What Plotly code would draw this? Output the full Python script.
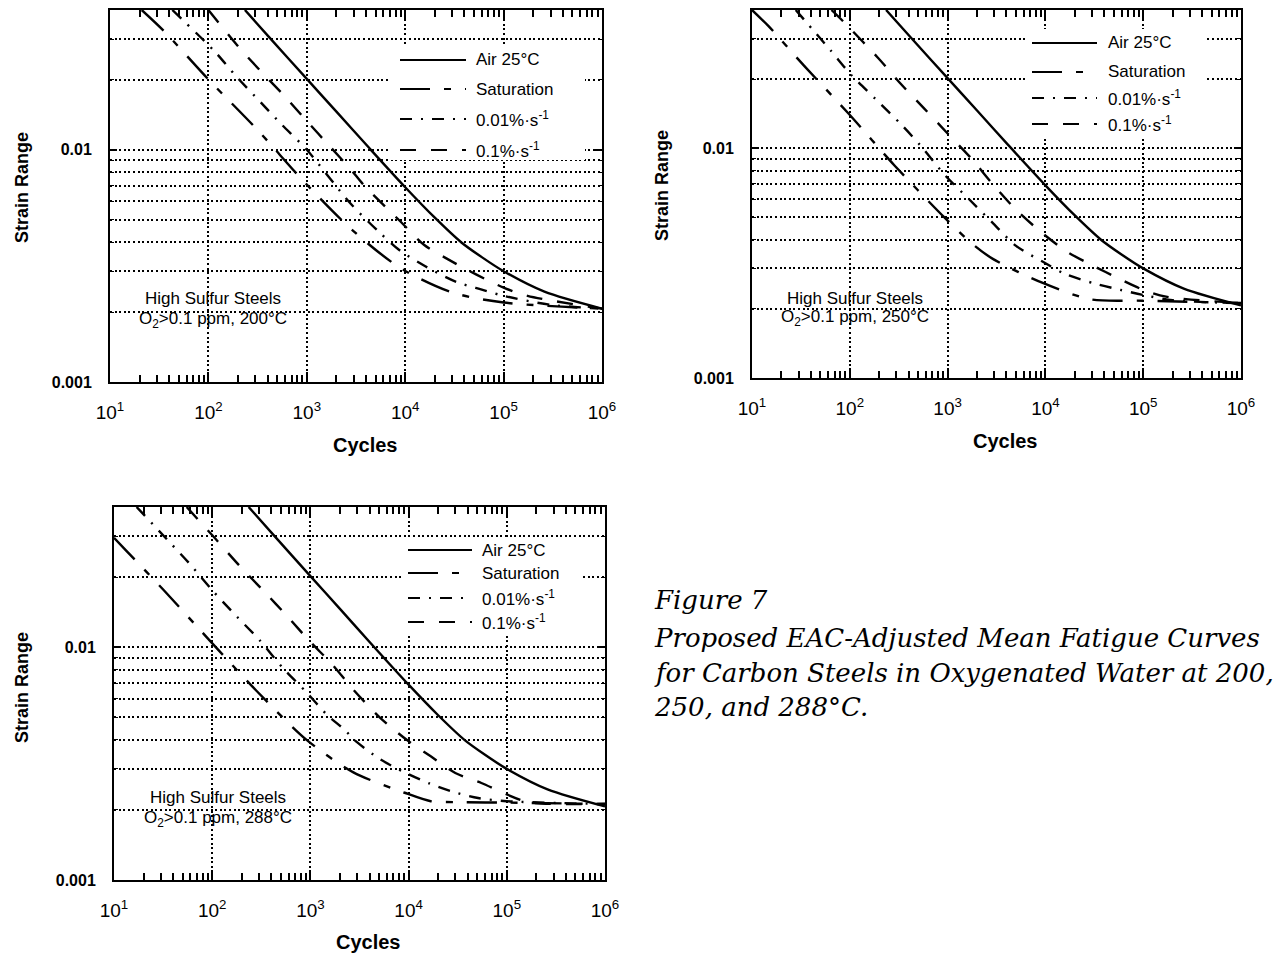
import plotly.graph_objects as go
import math

W, H = 1282, 954

# ---------------- data ----------------
# Air 25 C mean curve (same in all three panels)
air_n = [235, 416, 1000, 2000, 4200, 10000, 20000, 37000, 60000, 100000, 260000, 1000000]
air_e = [0.0400, 0.0305, 0.0202, 0.0146, 0.0103, 0.0069, 0.0051, 0.0040, 0.00345, 0.0030, 0.00245, 0.00207]

# 200 C
sat200_n = [21, 35, 100, 320, 935, 2920, 8900, 30000, 100000, 1000000]
sat200_e = [0.0400, 0.0326, 0.0201, 0.0121, 0.0073, 0.0045, 0.0031, 0.00243, 0.00220, 0.00207]
r001_200_n = [43, 115, 190, 340, 550, 1000, 2750, 5500, 8700, 16000, 33000, 60000, 100000, 300000, 1000000]
r001_200_e = [0.0400, 0.0266, 0.0208, 0.0160, 0.0129, 0.0100, 0.0059, 0.0044, 0.0037, 0.00315, 0.0027, 0.0025, 0.00235, 0.00215, 0.00207]
r01_200_n = [100, 196, 344, 590, 1000, 1730, 2820, 3740, 9000, 15500, 30000, 53000, 100000, 175000, 1000000]
r01_200_e = [0.0400, 0.0282, 0.0217, 0.0171, 0.0133, 0.0103, 0.0082, 0.0071, 0.0049, 0.0039, 0.0033, 0.0029, 0.00255, 0.00235, 0.00207]

# 250 C
sat250_n = [10, 14.6, 20, 34, 98, 288, 927, 1710, 2900, 9260, 29000, 100000, 1000000]
sat250_e = [0.0400, 0.0342, 0.0295, 0.0229, 0.0141, 0.0084, 0.0050, 0.0039, 0.0033, 0.0026, 0.0022, 0.00217, 0.00212]
r001_250_n = [28, 63.5, 104, 183, 335, 526, 948, 1660, 2940, 5010, 9620, 15800, 31600, 58400, 100000, 200000, 1000000]
r001_250_e = [0.0400, 0.0267, 0.0208, 0.0164, 0.0127, 0.0103, 0.0076, 0.0060, 0.0047, 0.00376, 0.00319, 0.00284, 0.00258, 0.00242, 0.00230, 0.00218, 0.00212]
r01_250_n = [65, 86, 197, 335, 568, 1000, 1760, 2880, 5010, 9260, 17100, 30400, 56200, 100000, 171000, 1000000]
r01_250_e = [0.0400, 0.0356, 0.0246, 0.0190, 0.0150, 0.0116, 0.0090, 0.0070, 0.0054, 0.00428, 0.00352, 0.00309, 0.00271, 0.00242, 0.00226, 0.00212]

# 288 C
sat288_n = [10, 13.3, 32, 94, 282, 914, 2740, 9120, 16800, 30000, 100000, 1000000]
sat288_e = [0.0295, 0.0260, 0.0176, 0.0107, 0.0065, 0.0040, 0.0029, 0.00237, 0.00218, 0.00216, 0.00215, 0.00212]
r001_288_n = [17, 35, 59, 102, 179, 305, 517, 912, 1490, 2260, 2790, 5140, 9120, 16200, 27700, 51000, 100000, 1000000]
r001_288_e = [0.0400, 0.0289, 0.0228, 0.0174, 0.0135, 0.0107, 0.0082, 0.0064, 0.0051, 0.0044, 0.0040, 0.0033, 0.0029, 0.0026, 0.0024, 0.00225, 0.00218, 0.00212]
r01_288_n = [55, 108, 193, 336, 579, 984, 1670, 2800, 5140, 9480, 16800, 29900, 55100, 100000, 166000, 1000000]
r01_288_e = [0.0400, 0.0292, 0.0222, 0.0174, 0.0136, 0.0106, 0.00843, 0.0065, 0.00497, 0.00401, 0.0034, 0.00288, 0.00261, 0.00233, 0.00216, 0.00212]

series_names = ["Air 25°C", "Saturation", "0.01%·s<sup>-1</sup>", "0.1%·s<sup>-1</sup>"]
panel_temps = ["200", "250", "288"]

x_tick_vals = [10, 100, 1000, 10000, 100000, 1000000]
x_tick_text = ["10<sup>1</sup>", "10<sup>2</sup>", "10<sup>3</sup>", "10<sup>4</sup>", "10<sup>5</sup>", "10<sup>6</sup>"]
y_tick_vals = [0.001, 0.01]
y_tick_text = ["<b>0.001</b>", "<b>0.01</b>"]
y_minor_vals = [0.002, 0.003, 0.004, 0.005, 0.006, 0.007, 0.008, 0.009, 0.02, 0.03]
x_minor_vals = [k * 10 ** e for e in range(1, 6) for k in range(2, 10)]

caption_lines = [
    "Figure 7",
    "Proposed EAC-Adjusted Mean Fatigue Curves",
    "for Carbon Steels in Oxygenated Water at 200,",
    "250, and 288°C.",
]

# ---------------- styles / layout ----------------
DASHES = ["solid", "30px,14px,7px,14px", "12px,9px,2px,9px", "16px,15px"]
FONT = "Liberation Sans, Arial, Helvetica, sans-serif"
GRID_DASH = "2px,2.6px"

def px(x):
    return x / W

def py(y):
    return 1 - y / H

panels = [
    dict(x0=110, x1=602, y0=10, y1=382,
         data=[(air_n, air_e), (sat200_n, sat200_e), (r001_200_n, r001_200_e), (r01_200_n, r01_200_e)],
         legbox=(390, 46, 585, 160), legx=(400, 466, 474), legy=[60, 89, 119, 150],
         ylab=(22, 188), xlab=(365, 445), note=(213, 299, 320)),
    dict(x0=752, x1=1241, y0=10, y1=378,
         data=[(air_n, air_e), (sat250_n, sat250_e), (r001_250_n, r001_250_e), (r01_250_n, r01_250_e)],
         legbox=(1028, 29, 1205, 136), legx=(1032, 1097, 1106), legy=[43, 72, 98, 124],
         ylab=(662, 186), xlab=(1005, 441), note=(855, 298, 318)),
    dict(x0=114, x1=605, y0=507, y1=880,
         data=[(air_n, air_e), (sat288_n, sat288_e), (r001_288_n, r001_288_e), (r01_288_n, r01_288_e)],
         legbox=(404, 539, 582, 634), legx=(408, 472, 480), legy=[550, 573, 598, 622],
         ylab=(22, 688), xlab=(368, 942), note=(218, 797, 819)),
]

fig = go.Figure()
annotations = []
shapes = []
layout_updates = {}

for i, p in enumerate(panels):
    k = "" if i == 0 else str(i + 1)
    for j, (nv, ev) in enumerate(p["data"]):
        fig.add_trace(go.Scatter(
            x=nv, y=ev, mode="lines", name=series_names[j],
            line=dict(color="black", width=2.4, dash=DASHES[j], shape="spline", smoothing=0.8),
            xaxis="x" + k, yaxis="y" + k, showlegend=False,
        ))
    common = dict(type="log", showline=True, linecolor="black", linewidth=2, mirror="allticks",
                  ticks="inside", tickcolor="black", tickwidth=1.6, automargin=False,
                  showgrid=True, gridcolor="black", gridwidth=1.6, griddash=GRID_DASH,
                  zeroline=False, tickmode="array")
    layout_updates["xaxis" + k] = dict(
        common, domain=[px(p["x0"]), px(p["x1"])], anchor="y" + k, range=[1, 6],
        tickvals=x_tick_vals, ticktext=x_tick_text, ticklen=10, ticklabelstandoff=12,
        tickfont=dict(family=FONT, size=19, color="black"),
        minor=dict(tickmode="array", tickvals=x_minor_vals, ticks="inside", ticklen=7,
                   tickwidth=1.6, tickcolor="black", showgrid=False),
    )
    layout_updates["yaxis" + k] = dict(
        common, domain=[py(p["y1"]), py(p["y0"])], anchor="x" + k,
        range=[math.log10(0.001), math.log10(0.04)],
        tickvals=y_tick_vals, ticktext=y_tick_text, ticklen=7, ticklabelstandoff=13,
        tickfont=dict(family=FONT, size=16, color="black"),
        minor=dict(tickmode="array", tickvals=y_minor_vals, ticks="inside", ticklen=4,
                   tickwidth=1.2, tickcolor="black", showgrid=True, gridcolor="black",
                   gridwidth=1.6, griddash=GRID_DASH),
    )
    # legend drawn inside each panel (white box, line samples, labels)
    bx0, by0, bx1, by1 = p["legbox"]
    shapes.append(dict(type="rect", xref="paper", yref="paper", x0=px(bx0), x1=px(bx1),
                       y0=py(by1), y1=py(by0), fillcolor="white", line=dict(width=0), layer="above"))
    sx0, sx1, tx = p["legx"]
    for j, ly in enumerate(p["legy"]):
        shapes.append(dict(type="line", xref="paper", yref="paper", x0=px(sx0), x1=px(sx1),
                           y0=py(ly), y1=py(ly), layer="above",
                           line=dict(color="black", width=2.2, dash=DASHES[j])))
        annotations.append(dict(text=series_names[j], x=px(tx), y=py(ly), xref="paper", yref="paper",
                                xanchor="left", yanchor="middle", showarrow=False,
                                font=dict(family=FONT, size=17, color="black")))
    # axis titles
    annotations.append(dict(text="<b>Strain Range</b>", x=px(p["ylab"][0]), y=py(p["ylab"][1]),
                            xref="paper", yref="paper", showarrow=False, textangle=-90,
                            xanchor="center", yanchor="middle",
                            font=dict(family=FONT, size=18, color="black")))
    annotations.append(dict(text="<b>Cycles</b>", x=px(p["xlab"][0]), y=py(p["xlab"][1]),
                            xref="paper", yref="paper", showarrow=False,
                            xanchor="center", yanchor="middle",
                            font=dict(family=FONT, size=20, color="black")))
    nx, ny1, ny2 = p["note"]
    annotations.append(dict(text="High Sulfur Steels", x=px(nx), y=py(ny1), xref="paper", yref="paper",
                            xanchor="center", yanchor="middle", showarrow=False,
                            font=dict(family=FONT, size=17, color="black")))
    annotations.append(dict(text=f"O<sub>2</sub>&gt;0.1 ppm, {panel_temps[i]}°C", x=px(nx), y=py(ny2),
                            xref="paper", yref="paper", xanchor="center", yanchor="middle",
                            showarrow=False, font=dict(family=FONT, size=17, color="black")))

cap_y = [600, 638, 673, 707]
for t, yy in zip(caption_lines, cap_y):
    annotations.append(dict(text=f"<i>{t}</i>", x=px(652), y=py(yy), xref="paper", yref="paper",
                            xanchor="left", yanchor="middle", showarrow=False,
                            font=dict(family="DejaVu Serif, serif", size=26, color="black")))

fig.update_layout(
    width=W, height=H, margin=dict(l=0, r=0, t=0, b=0, autoexpand=False),
    paper_bgcolor="white", plot_bgcolor="white",
    showlegend=False, annotations=annotations, shapes=shapes, **layout_updates,
)

fig.write_html("out.html")
